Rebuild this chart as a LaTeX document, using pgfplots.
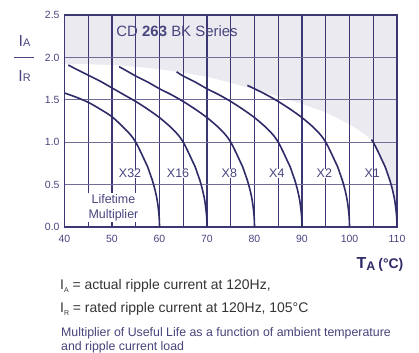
\documentclass[border=0pt]{standalone}
\usepackage{fontspec}
\setmainfont{Liberation Sans}
\usepackage{pgfplots}
\pgfplotsset{compat=1.18}
\definecolor{shade}{HTML}{EAEAF0}
\definecolor{navy}{HTML}{2F2B68}
\definecolor{gridx}{HTML}{3A3773}
\definecolor{gridy}{HTML}{6F6D98}
\definecolor{txt}{HTML}{48457F}
\definecolor{cap}{HTML}{333333}
\definecolor{cap2}{HTML}{45437A}
\tikzset{mlab/.style={text=txt, font=\fontsize{12.5}{14}\selectfont, fill=white, inner sep=0.5bp}}
\begin{document}
\begin{tikzpicture}
\begin{axis}[
  set layers,
  at={(64.5bp,126bp)}, anchor=south west,
  scale only axis, width=332.5bp, height=212bp,
  xmin=40, xmax=110, ymin=0, ymax=2.5,
  xtick={40,45,...,110},
  xticklabels={40,,50,,60,,70,,80,,90,,100,,110},
  ytick={0,0.5,1,1.5,2,2.5},
  yticklabel style={/pgf/number format/fixed, /pgf/number format/fixed zerofill, /pgf/number format/precision=1, xshift=-1.5bp},
  /pgf/number format/assume math mode=true,
  tick label style={font=\fontsize{10.5}{12}\selectfont, text=txt},
  xticklabel style={yshift=-4.5bp},
  major tick length=0pt,
  grid=major,
  x grid style={gridx, line width=1.1bp},
  y grid style={gridy, line width=1.2bp},
  axis line style={gridx, line width=1.2bp},
]
% shaded background
\addplot[on layer=axis background, fill=shade, draw=none] coordinates {(40,2.5) (110,2.5)} \closedcycle;
% white region below the boundary
\addplot[on layer=axis background, fill=white, draw=none] coordinates {
(40,1.92) (45,1.92) (50,1.91) (55,1.89) (60,1.86) (65,1.82) (70,1.77) (75,1.70)
(80,1.62) (85,1.54) (90,1.45) (95,1.35) (100,1.21) (103,1.10) (104.6,1.03)
(105,1.0) (106,0.89) (107,0.77) (107.5,0.71) (108,0.63) (108.5,0.55) (109,0.45)
(109.25,0.39) (109.5,0.32) (109.75,0.22) (109.9,0.14) (109.97,0.08) (110,0)
} \closedcycle;
% X32
\addplot[navy, line width=1.6bp, smooth, tension=0.5] coordinates {
(40,1.58) (42.5,1.53) (45,1.47) (47.5,1.39) (50,1.30) (52.5,1.17) (54,1.08) (55,1.0)
(56,0.89) (57,0.77) (57.5,0.71) (58,0.63) (58.5,0.55) (59,0.45) (59.25,0.39)
(59.5,0.32) (59.75,0.22) (59.9,0.14) (59.97,0.08) (60,0)};
% X16
\addplot[navy, line width=1.6bp, smooth, tension=0.5] coordinates {
(40.8,1.91) (42.5,1.86) (45,1.79) (47.5,1.72) (50,1.64) (52.5,1.56) (55,1.48)
(57.5,1.39) (60,1.29) (62.5,1.17) (64,1.08) (65,1.0) (66,0.89) (67,0.77) (67.5,0.71)
(68,0.63) (68.5,0.55) (69,0.45) (69.25,0.39) (69.5,0.32) (69.75,0.22) (69.9,0.14)
(69.97,0.08) (70,0)};
% X8
\addplot[navy, line width=1.6bp, smooth, tension=0.5] coordinates {
(51.5,1.89) (52.5,1.86) (55,1.78) (57.5,1.71) (60,1.63) (62.5,1.56) (65,1.48)
(67.5,1.39) (70,1.29) (72.5,1.17) (74,1.08) (75,1.0) (76,0.89) (77,0.77) (77.5,0.71)
(78,0.63) (78.5,0.55) (79,0.45) (79.25,0.39) (79.5,0.32) (79.75,0.22) (79.9,0.14)
(79.97,0.08) (80,0)};
% X4
\addplot[navy, line width=1.6bp, smooth, tension=0.5] coordinates {
(63.6,1.83) (65,1.78) (67.5,1.71) (70,1.63) (72.5,1.56) (75,1.48) (77.5,1.39)
(80,1.29) (82.5,1.17) (84,1.08) (85,1.0) (86,0.89) (87,0.77) (87.5,0.71) (88,0.63)
(88.5,0.55) (89,0.45) (89.25,0.39) (89.5,0.32) (89.75,0.22) (89.9,0.14) (89.97,0.08)
(90,0)};
% X2
\addplot[navy, line width=1.6bp, smooth, tension=0.5] coordinates {
(78.5,1.67) (80,1.63) (82.5,1.56) (85,1.48) (87.5,1.39) (90,1.29) (92.5,1.17)
(94,1.08) (95,1.0) (96,0.89) (97,0.77) (97.5,0.71) (98,0.63) (98.5,0.55) (99,0.45)
(99.25,0.39) (99.5,0.32) (99.75,0.22) (99.9,0.14) (99.97,0.08) (100,0)};
% X1
\addplot[navy, line width=1.6bp, smooth, tension=0.5] coordinates {
(104.6,1.03) (105,1.0) (106,0.89) (107,0.77) (107.5,0.71) (108,0.63) (108.5,0.55)
(109,0.45) (109.25,0.39) (109.5,0.32) (109.75,0.22) (109.9,0.14) (109.97,0.08) (110,0)};
% labels
\node[text=txt, font=\fontsize{15}{18}\selectfont] at (axis cs:63.7,2.31) {CD \textbf{263} BK Series};
\node[mlab] at (axis cs:53.8,0.63) {X32};
\node[mlab] at (axis cs:63.9,0.63) {X16};
\node[mlab] at (axis cs:74.7,0.63) {X8};
\node[mlab] at (axis cs:84.7,0.63) {X4};
\node[mlab] at (axis cs:94.7,0.63) {X2};
\node[mlab, fill=none] at (axis cs:104.8,0.63) {X1};
\node[text=txt, font=\fontsize{12.5}{15}\selectfont, align=center, fill=white, inner sep=1bp] at (axis cs:50.3,0.23) {Lifetime\\Multiplier};
\end{axis}
% y label fraction
\node[text=txt, font=\fontsize{16}{18}\selectfont, anchor=base] at (24.5bp,353bp-47bp) {I\fontsize{11}{12}\selectfont A};
\draw[txt, line width=0.8bp] (14bp,353bp-57.5bp) -- (34bp,353bp-57.5bp);
\node[text=txt, font=\fontsize{16}{18}\selectfont, anchor=base] at (24.5bp,353bp-82bp) {I\fontsize{11}{12}\selectfont R};
% x label
\node[text=navy, anchor=base west, inner sep=0pt] at (356.5bp,353bp-268.3bp)
  {\fontsize{16}{18}\selectfont\textbf{T}\raisebox{-2.5bp}{\fontsize{12.5}{14}\selectfont\textbf{A}}\hspace{3bp}\fontsize{14}{16}\selectfont\textbf{(°C)}};
% captions
\node[text=cap, anchor=base west, inner sep=0pt, font=\fontsize{14}{16}\selectfont] at (60bp,353bp-290bp)
  {I\raisebox{-3bp}{\fontsize{7}{8}\selectfont A} = actual ripple current at 120Hz,};
\node[text=cap, anchor=base west, inner sep=0pt, font=\fontsize{14}{16}\selectfont] at (60bp,353bp-313bp)
  {I\raisebox{-3bp}{\fontsize{7}{8}\selectfont R} = rated ripple current at 120Hz, 105°C};
\node[text=cap2, anchor=base west, inner sep=0pt, font=\fontsize{12.4}{14}\selectfont] at (61bp,353bp-336bp)
  {Multiplier of Useful Life as a function of ambient temperature};
\node[text=cap2, anchor=base west, inner sep=0pt, font=\fontsize{12.4}{14}\selectfont] at (61bp,353bp-350bp)
  {and ripple current load};
\pgfresetboundingbox
\path[use as bounding box] (0,0) rectangle (419bp,353bp);
\end{tikzpicture}
\end{document}
